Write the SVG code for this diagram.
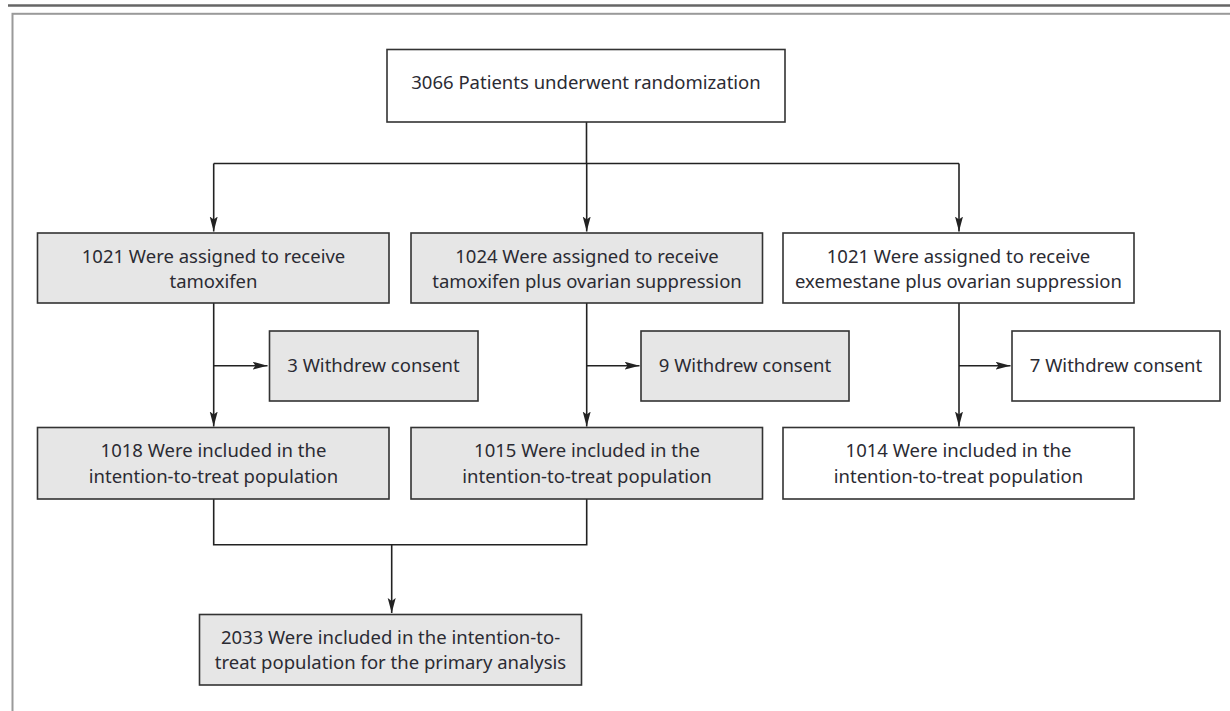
<svg xmlns="http://www.w3.org/2000/svg" width="1230" height="711" viewBox="0 0 1230 711">
<style>
  .box { stroke: #333; stroke-width: 1.6; }
  .g { fill: #e6e6e6; }
  .w { fill: #ffffff; }
  .t { font-family: "Noto Sans", "Open Sans", sans-serif; font-size: 18.5px; fill: #2b2b33; text-anchor: middle; }
  .c { fill: none; stroke: #222; stroke-width: 1.6; }
</style>
<defs>
  <marker id="ah" markerUnits="userSpaceOnUse" markerWidth="16" markerHeight="9" refX="15" refY="4" orient="auto">
    <path d="M0,0 L15,4 L0,8 L3,4 z" fill="#222"/>
  </marker>
</defs>
<rect width="1230" height="711" fill="#ffffff"/>
<line x1="8" y1="5.5" x2="1230" y2="5.5" stroke="#666" stroke-width="2.5"/>
<rect x="12.5" y="13.8" width="1240" height="720" fill="none" stroke="#9a9a9a" stroke-width="2"/>

<g id="connectors">
  <path class="c" d="M586.5,122 V163.5"/>
  <path class="c" d="M213.7,163.5 H959"/>
  <path class="c" d="M213.7,163.5 V231.5" marker-end="url(#ah)"/>
  <path class="c" d="M586.7,163.5 V231.5" marker-end="url(#ah)"/>
  <path class="c" d="M959,163.5 V231.5" marker-end="url(#ah)"/>
  <path class="c" d="M213.7,303 V426.5" marker-end="url(#ah)"/>
  <path class="c" d="M213.7,365.7 H267.5" marker-end="url(#ah)"/>
  <path class="c" d="M586.7,303 V426.5" marker-end="url(#ah)"/>
  <path class="c" d="M586.7,365.7 H639.5" marker-end="url(#ah)"/>
  <path class="c" d="M959,303 V426.5" marker-end="url(#ah)"/>
  <path class="c" d="M959,365.7 H1010.5" marker-end="url(#ah)"/>
  <path class="c" d="M213.7,499 V544.7 H586.7 V499"/>
  <path class="c" d="M391.7,544.7 V613" marker-end="url(#ah)"/>
</g>

<g id="n-random">
  <rect class="box w" x="387" y="49.5" width="398" height="72.5"/>
  <text class="t" x="586" y="88.5">3066 Patients underwent randomization</text>
</g>

<g id="n-tam">
  <rect class="box g" x="37.5" y="233" width="351.5" height="70"/>
  <text class="t" x="213.5" y="263">1021 Were assigned to receive</text>
  <text class="t" x="213.5" y="288">tamoxifen</text>
</g>
<g id="n-tamos">
  <rect class="box g" x="411" y="233" width="351.5" height="70"/>
  <text class="t" x="587" y="263">1024 Were assigned to receive</text>
  <text class="t" x="587" y="288">tamoxifen plus ovarian suppression</text>
</g>
<g id="n-exeos">
  <rect class="box w" x="783" y="233" width="351" height="70"/>
  <text class="t" x="958.5" y="263">1021 Were assigned to receive</text>
  <text class="t" x="958.5" y="288">exemestane plus ovarian suppression</text>
</g>

<g id="n-wd1">
  <rect class="box g" x="269.5" y="331" width="208.5" height="70"/>
  <text class="t" x="373.5" y="372">3 Withdrew consent</text>
</g>
<g id="n-wd2">
  <rect class="box g" x="641" y="331" width="208" height="70"/>
  <text class="t" x="745" y="372">9 Withdrew consent</text>
</g>
<g id="n-wd3">
  <rect class="box w" x="1012" y="331" width="208" height="70"/>
  <text class="t" x="1116" y="372">7 Withdrew consent</text>
</g>

<g id="n-itt1">
  <rect class="box g" x="37.5" y="427.5" width="351.5" height="71.5"/>
  <text class="t" x="213.5" y="456.5">1018 Were included in the</text>
  <text class="t" x="213.5" y="482.5">intention-to-treat population</text>
</g>
<g id="n-itt2">
  <rect class="box g" x="411" y="427.5" width="351.5" height="71.5"/>
  <text class="t" x="587" y="456.5">1015 Were included in the</text>
  <text class="t" x="587" y="482.5">intention-to-treat population</text>
</g>
<g id="n-itt3">
  <rect class="box w" x="783" y="427.5" width="351" height="71.5"/>
  <text class="t" x="958.5" y="456.5">1014 Were included in the</text>
  <text class="t" x="958.5" y="482.5">intention-to-treat population</text>
</g>

<g id="n-primary">
  <rect class="box g" x="199.5" y="614.5" width="382" height="70.5"/>
  <text class="t" x="390.5" y="644">2033 Were included in the intention-to-</text>
  <text class="t" x="390.5" y="668.5">treat population for the primary analysis</text>
</g>
</svg>
